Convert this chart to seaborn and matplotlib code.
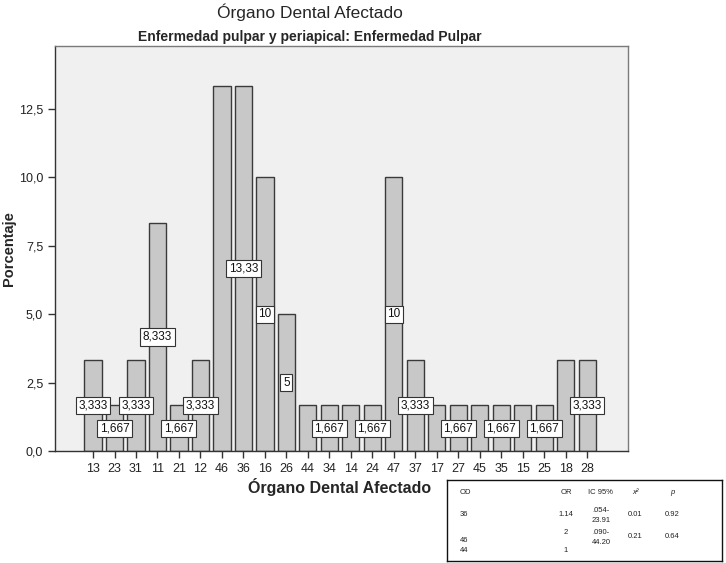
import matplotlib
matplotlib.use("Agg")
import matplotlib.pyplot as plt
import seaborn as sns
import pandas as pd

categories = ["13", "23", "31", "11", "21", "12", "46", "36", "16", "26", "44", "34",
              "14", "24", "47", "37", "17", "27", "45", "35", "15", "25", "18", "28"]
values = [3.333, 1.667, 3.333, 8.333, 1.667, 3.333, 13.33, 13.33, 10, 5, 1.667, 1.667,
          1.667, 1.667, 10, 3.333, 1.667, 1.667, 1.667, 1.667, 1.667, 1.667, 3.333, 3.333]
bar_labels = ["3,333", "1,667", "3,333", "8,333", "1,667", "3,333", None, "13,33", "10", "5", None, "1,667",
              None, "1,667", "10", "3,333", None, "1,667", None, "1,667", None, "1,667", None, "3,333"]
yticks = [0.0, 2.5, 5.0, 7.5, 10.0, 12.5]
ytick_labels = ["0,0", "2,5", "5,0", "7,5", "10,0", "12,5"]

table_header = ["OD", "OR", "IC 95%", "x²", "p"]
table_od = ["36", "46", "44"]
table_or = ["1.14", "2", "1"]
table_ic = [".054-\n23.91", ".090-\n44.20", ""]
table_chi = ["0.01", "0.21", ""]
table_p = ["0.92", "0.64", ""]

sns.set_style("white")
plt.rcParams['font.family'] = ['Liberation Sans', 'DejaVu Sans']

fig = plt.figure(figsize=(7.26, 5.63), dpi=100)
ax = fig.add_axes([55/726, 1-451/563, (628-55)/726, (451-46)/563])
ax.set_facecolor("#f0f0f0")

df = pd.DataFrame({"cat": categories, "val": values})
sns.barplot(data=df, x="cat", y="val", order=categories, color="#c8c8c8", saturation=1,
            width=0.8, edgecolor="#3a3a3a", linewidth=1.0, errorbar=None, ax=ax)

for i, (v, lab) in enumerate(zip(values, bar_labels)):
    if lab is None:
        continue
    ax.text(i, v / 2, lab, ha="center", va="center", fontsize=8.5, color="#111111",
            bbox=dict(boxstyle="square,pad=0.22", facecolor="white", edgecolor="#333333", linewidth=0.8))

ax.set_xlim(-1.77, len(categories) - 1 + 1.9)
ax.set_ylim(0, 14.8)
ax.set_yticks(yticks)
ax.set_yticklabels(ytick_labels)
ax.tick_params(axis="both", labelsize=9, colors="#333333", length=5, width=1, direction="out",
               left=True, bottom=True)
for lab in ax.get_xticklabels() + ax.get_yticklabels():
    lab.set_color("#222222")
ax.set_xlabel("Órgano Dental Afectado", fontsize=11.5, fontweight="bold")
ax.set_ylabel("Porcentaje", fontsize=10.5, fontweight="bold")
ax.xaxis.set_label_coords((340 - 55) / 573, -(487 - 451) / 405)
ax.yaxis.set_label_coords((9 - 55) / 573, 0.5)
ax.xaxis.label.set_va("center")
ax.yaxis.label.set_va("center")
for s in ax.spines.values():
    s.set_color("#7a7a7a")
    s.set_linewidth(1)
ax.spines["left"].set_color("#333333")
ax.spines["bottom"].set_color("#333333")

fig.text(310/726, 1-12/563, "Órgano Dental Afectado", ha="center", va="center",
         fontsize=12.5, family=['Liberation Sans Narrow', 'Liberation Sans', 'DejaVu Sans'])
fig.text(310/726, 1-37/563, "Enfermedad pulpar y periapical: Enfermedad Pulpar", ha="center", va="center",
         fontsize=10, fontweight="bold", family=['Liberation Sans Narrow', 'Liberation Sans', 'DejaVu Sans'])

# statistics table
tax = fig.add_axes([447/726, 1-561/563, (722-447)/726, (561-480)/563])
tax.set_xlim(447, 722)
tax.set_ylim(561, 480)
tax.set_xticks([])
tax.set_yticks([])
tax.set_facecolor("white")
for s in tax.spines.values():
    s.set_color("#111111")
    s.set_linewidth(1)
fs = 5.5
col_x = [460, 566, 601, 635, 672]
for x, h in zip(col_x, table_header):
    tax.text(x, 492, h, ha="left" if h == "OD" else "center", va="center", fontsize=fs,
             style="italic" if h in ("x²", "p") else "normal", color="#222222")
row_y = [515, 537, 551]
od_y = [515, 540, 551]
for i in range(3):
    tax.text(col_x[0], od_y[i], table_od[i], ha="left", va="center", fontsize=fs, color="#222222")
    tax.text(col_x[1], row_y[i] - (4 if i == 1 else 0), table_or[i], ha="center", va="center", fontsize=fs, color="#222222")
    tax.text(col_x[2], row_y[i], table_ic[i], ha="center", va="center", fontsize=fs, color="#222222", linespacing=1.6)
    tax.text(col_x[3], row_y[i], table_chi[i], ha="center", va="center", fontsize=fs, color="#222222")
    tax.text(col_x[4], row_y[i], table_p[i], ha="center", va="center", fontsize=fs, color="#222222")

fig.savefig("out.png", dpi=100)
